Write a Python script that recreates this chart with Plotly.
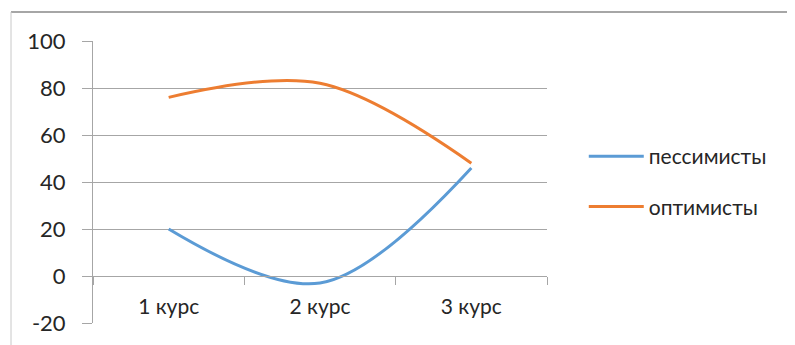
import plotly.graph_objects as go

categories = ["1 курс", "2 курс", "3 курс"]
pessimists = [20, -3, 46]
optimists = [76, 82, 48]
series_names = ["пессимисты", "оптимисты"]
series_colors = ["#5B9BD5", "#ED7D31"]
y_ticks = [-20, 0, 20, 40, 60, 80, 100]
y_tick_labels = ["-20", "0", "20", "40", "60", "80", "100"]

FONT = "Lato, 'Open Sans', sans-serif"
GRID = "#a6a6a6"

fig = go.Figure()
for name, vals, col in zip(series_names, [pessimists, optimists], series_colors):
    fig.add_trace(go.Scatter(
        x=categories, y=vals, name=name, mode="lines",
        line=dict(color=col, width=3, shape="spline", smoothing=1.0),
        legendgroup=name,
    ))

# chart border (top and left only, as in the reference)
fig.add_shape(type="line", xref="paper", yref="paper",
              x0=-0.1806, x1=1.6, y0=1.1028, y1=1.1028,
              line=dict(color="#a6a6a6", width=2))
fig.add_shape(type="line", xref="paper", yref="paper",
              x0=-0.1806, x1=-0.1806, y0=1.1028, y1=-0.2,
              line=dict(color="#c8c8c8", width=1))

fig.update_layout(
    width=795, height=345,
    margin=dict(l=85, r=256, t=33, b=30, autoexpand=False),
    paper_bgcolor="white", plot_bgcolor="white",
    font=dict(family=FONT, size=22, color="#262626"),
    showlegend=True,
    legend=dict(x=1.081, y=0.663, xanchor="left", yanchor="top",
                traceorder="grouped", tracegroupgap=20,
                itemwidth=55, font=dict(size=21, color="#262626"),
                bgcolor="rgba(0,0,0,0)"),
    xaxis=dict(
        type="category", range=[-0.5, 2.5], automargin=False,
        anchor="free", position=20 / 120,
        showline=True, linecolor=GRID, linewidth=1,
        ticks="outside", ticklen=8, tickcolor=GRID, tickson="boundaries",
        ticklabelstandoff=12,
        showgrid=False, zeroline=False,
        tickfont=dict(size=21, color="#262626"),
    ),
    yaxis=dict(
        range=[-20, 100], tickvals=y_ticks, ticktext=y_tick_labels,
        automargin=False,
        showline=True, linecolor=GRID, linewidth=1,
        ticks="outside", ticklen=10, tickcolor=GRID,
        showgrid=True, gridcolor=GRID, gridwidth=1,
        zeroline=False, ticklabelstandoff=12,
        tickfont=dict(size=22, color="#262626"),
    ),
)

fig.write_html("out.html")
